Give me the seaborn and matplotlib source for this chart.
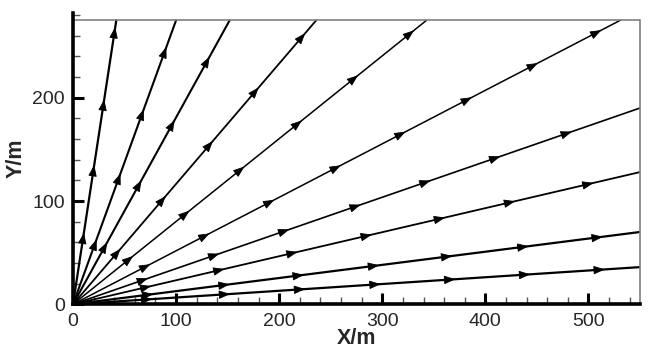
import numpy as np
import pandas as pd
import matplotlib
matplotlib.use("Agg")
import matplotlib.pyplot as plt
import seaborn as sns
from matplotlib.ticker import MultipleLocator

# Ray end points (streamlines radiating from the origin)
ray_end_x = [42, 100, 152, 236, 343, 531, 550, 550, 550, 550]
ray_end_y = [275, 275, 275, 275, 275, 275, 190, 128, 70, 36]
# x positions of arrowheads along each ray
arrow_x = [
    [10.6, 20.6, 30.3, 41.0],
    [22.9, 46.1, 68.7, 90.6],
    [33.2, 66.4, 98.6, 132.5],
    [46.1, 90.0, 135.7, 180.2, 225.3],
    [58.3, 113.0, 166.3, 222.0, 276.6, 330.8],
    [75.0, 132.5, 195.4, 259.8, 322.7, 387.0, 451.0, 512.6],
    [72.8, 142.0, 209.9, 279.2, 346.9, 414.6, 484.0],
    [76.0, 147.0, 218.0, 290.0, 361.0, 429.0, 505.0],
    [78.0, 152.0, 224.0, 297.0, 368.0, 442.0, 514.0],
    [77.0, 152.5, 225.3, 298.5, 371.0, 443.6, 516.0],
]
ray_lw = [1.6, 1.5, 1.5, 1.3, 1.1, 1.1, 1.2, 1.3, 1.6, 1.6]
x_ticks = [0, 100, 200, 300, 400, 500]
y_ticks = [0, 100, 200]
domain_x = 550
domain_y = 275

sns.set_style("white")
plt.rcParams["font.family"] = ["Liberation Sans", "DejaVu Sans"]

fig = plt.figure(figsize=(6.59, 3.53), dpi=100)
ax = fig.add_axes([73 / 659, 1 - 304.3 / 353, (640 - 73) / 659, (304.3 - 13) / 353])

rows = []
for i, (ex, ey) in enumerate(zip(ray_end_x, ray_end_y)):
    rows.append({"x": 0.0, "y": 0.0, "ray": i})
    rows.append({"x": float(ex), "y": float(ey), "ray": i})
df = pd.DataFrame(rows)

for i in range(len(ray_end_x)):
    sub = df[df["ray"] == i]
    sns.lineplot(data=sub, x="x", y="y", ax=ax, color="black", lw=ray_lw[i],
                 sort=False, estimator=None, legend=False)
    ex, ey = ray_end_x[i], ray_end_y[i]
    L = np.hypot(ex, ey)
    ux, uy = ex / L, ey / L
    for ax_x in arrow_x[i]:
        py = ax_x * ey / ex
        ax.annotate("", xy=(ax_x, py), xytext=(ax_x - 5 * ux, py - 5 * uy),
                    arrowprops=dict(arrowstyle="-|>,head_length=0.8,head_width=0.3",
                                    mutation_scale=8.8, color="black", lw=0.6,
                                    shrinkA=0, shrinkB=0))

# domain boundary (top and right) in gray
ax.plot([0, domain_x], [domain_y, domain_y], color="#808080", lw=1.2)

ax.set_xlim(0, domain_x)
ax.set_ylim(0, 282)
ax.set_xticks(x_ticks)
ax.set_yticks(y_ticks)
ax.xaxis.set_minor_locator(MultipleLocator(20))
ax.yaxis.set_minor_locator(MultipleLocator(20))

ax.spines["top"].set_visible(False)
ax.spines["right"].set_color("#808080")
ax.spines["right"].set_linewidth(1.2)
ax.spines["right"].set_bounds(0, domain_y)
for s in ("left", "bottom"):
    ax.spines[s].set_color("black")
    ax.spines[s].set_linewidth(2.6)

ax.tick_params(axis="both", which="major", direction="in", length=8, width=2.2,
               color="black", labelsize=14, pad=6)
ax.tick_params(axis="both", which="minor", direction="in", length=5, width=1.0,
               color="#555555")
ax.tick_params(axis="x", which="both", top=False, bottom=True)
ax.tick_params(axis="y", which="both", left=True, right=False)

ax.set_xlabel("X/m", fontsize=15.5, fontweight="bold", labelpad=-1)
ax.set_ylabel("Y/m", fontsize=15.5, fontweight="bold", labelpad=4)

fig.savefig("out.png", dpi=100)
